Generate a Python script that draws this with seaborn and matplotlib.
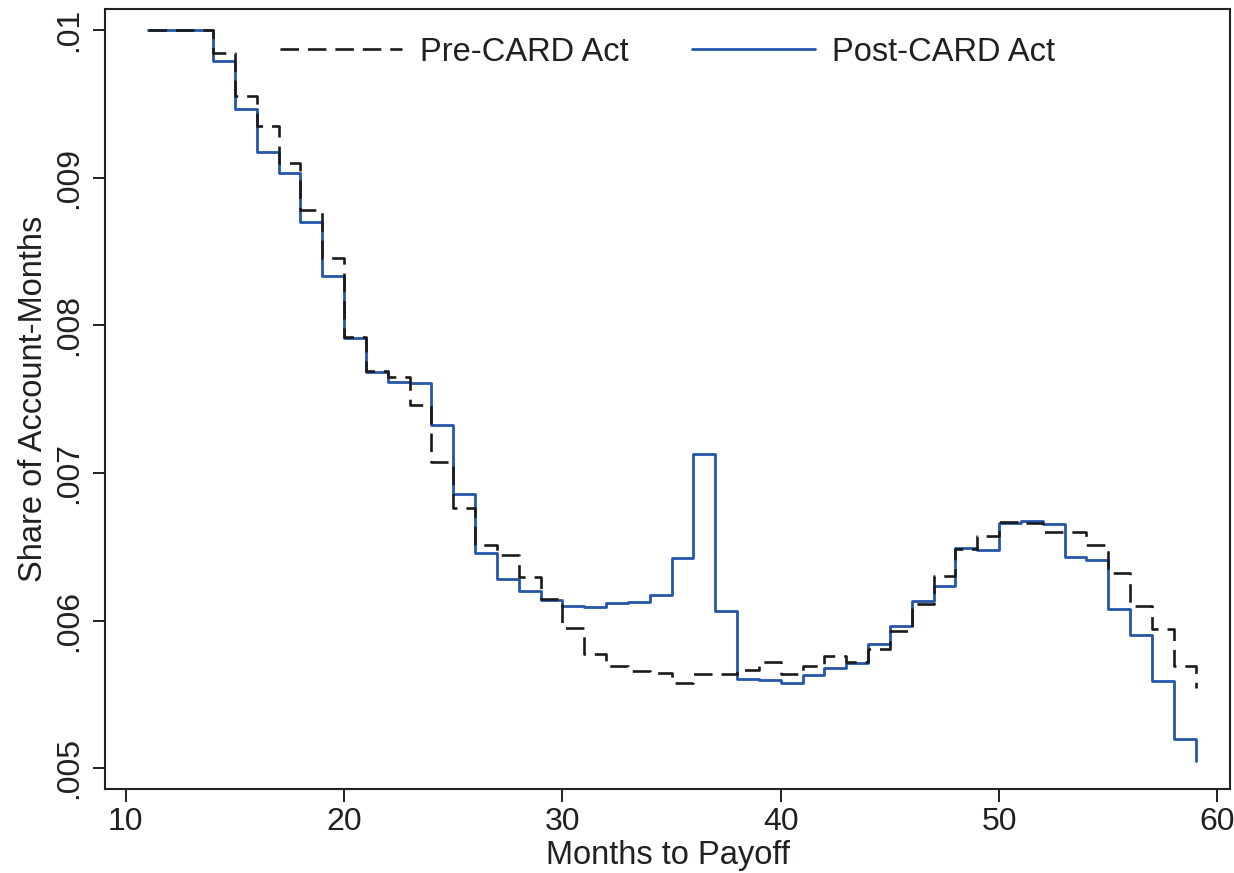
import matplotlib
matplotlib.use("Agg")
import matplotlib.pyplot as plt
from matplotlib.ticker import FuncFormatter, FixedLocator
import numpy as np
import pandas as pd
import seaborn as sns

# Months to payoff and share of account-months, before/after the CARD Act
months = list(range(11, 60))

pre_card = [
    0.01000, 0.01000, 0.01000, 0.009843, 0.009554, 0.009351, 0.009103, 0.008782,
    0.008457, 0.007919, 0.007691, 0.007651, 0.007461, 0.007072, 0.006766, 0.006516,
    0.006444, 0.006295, 0.006149, 0.005951, 0.005775, 0.005691, 0.005662, 0.005649,
    0.005581, 0.005640, 0.005640, 0.005664, 0.005721, 0.005640, 0.005691, 0.005759,
    0.005718, 0.005811, 0.005930, 0.006115, 0.006304, 0.006484, 0.006576, 0.006671,
    0.006664, 0.006603, 0.006599, 0.006514, 0.006326, 0.006097, 0.005946, 0.005691,
    0.005545,
]

post_card = [
    0.01000, 0.01000, 0.01000, 0.009795, 0.009464, 0.009176, 0.009036, 0.008698,
    0.008338, 0.007917, 0.007682, 0.007617, 0.007613, 0.007324, 0.006856, 0.006457,
    0.006282, 0.006198, 0.006142, 0.006103, 0.006093, 0.006120, 0.006126, 0.006174,
    0.006426, 0.007132, 0.006066, 0.005608, 0.005601, 0.005579, 0.005630, 0.005682,
    0.005716, 0.005840, 0.005966, 0.006135, 0.006236, 0.006491, 0.006480, 0.006664,
    0.006678, 0.006655, 0.006430, 0.006412, 0.006079, 0.005901, 0.005590, 0.005196,
    0.005049,
]

series_names = ["Pre-CARD Act", "Post-CARD Act"]
x_ticks = [10, 20, 30, 40, 50, 60]
y_ticks = [0.005, 0.006, 0.007, 0.008, 0.009, 0.010]

sns.set_theme(style="ticks")
plt.rcParams["font.family"] = ["Liberation Sans", "DejaVu Sans"]
text_color = "#231f20"
plt.rcParams["text.color"] = text_color
plt.rcParams["axes.labelcolor"] = text_color
plt.rcParams["xtick.color"] = text_color
plt.rcParams["ytick.color"] = text_color

df_pre = pd.DataFrame({"month": months, "share": pre_card})
df_post = pd.DataFrame({"month": months, "share": post_card})

fig = plt.figure(figsize=(12.34, 8.73), dpi=100)
ax = fig.add_axes([105 / 1234, 1 - 789 / 873, (1230 - 105) / 1234, (789 - 9) / 873])

blue = "#2556a8"
sns.lineplot(data=df_post, x="month", y="share", ax=ax, color=blue,
             linewidth=2.0, drawstyle="steps-post", label=series_names[1],
             zorder=2, legend=False)
sns.lineplot(data=df_pre, x="month", y="share", ax=ax, color="#1a1a1a",
             linewidth=1.9, drawstyle="steps-post", label=series_names[0],
             zorder=3, legend=False)
post_line, pre_line = ax.get_lines()[0], ax.get_lines()[1]
pre_line.set_dashes((7.0, 3.4))

ax.set_xlim(9.05, 60.58)
ax.set_ylim(0.00486, 0.010144)
ax.xaxis.set_major_locator(FixedLocator(x_ticks))
ax.yaxis.set_major_locator(FixedLocator(y_ticks))
ax.yaxis.set_major_formatter(FuncFormatter(lambda v, p: ("%g" % v).lstrip("0")))

ax.tick_params(axis="both", direction="out", length=9, width=1.4,
               labelsize=23, colors=text_color)
ax.tick_params(axis="x", pad=4)
ax.tick_params(axis="y", pad=6)
for lab in ax.get_yticklabels():
    lab.set_rotation(90)
    lab.set_va("center")
    lab.set_ha("right")

for sp in ax.spines.values():
    sp.set_visible(True)
    sp.set_linewidth(1.5)
    sp.set_color("#222222")

ax.set_xlabel("Months to Payoff", fontsize=23.5, labelpad=2)
ax.set_ylabel("Share of Account-Months", fontsize=23.5, labelpad=4)

leg = ax.legend([pre_line, post_line], series_names, loc="upper center",
                bbox_to_anchor=(0.5, 1.0), ncol=2, frameon=False,
                prop={"size": 23.5},
                handlelength=3.75, handletextpad=0.55, columnspacing=1.95,
                borderaxespad=0.45)

fig.savefig("out.png", dpi=100, facecolor="white")
